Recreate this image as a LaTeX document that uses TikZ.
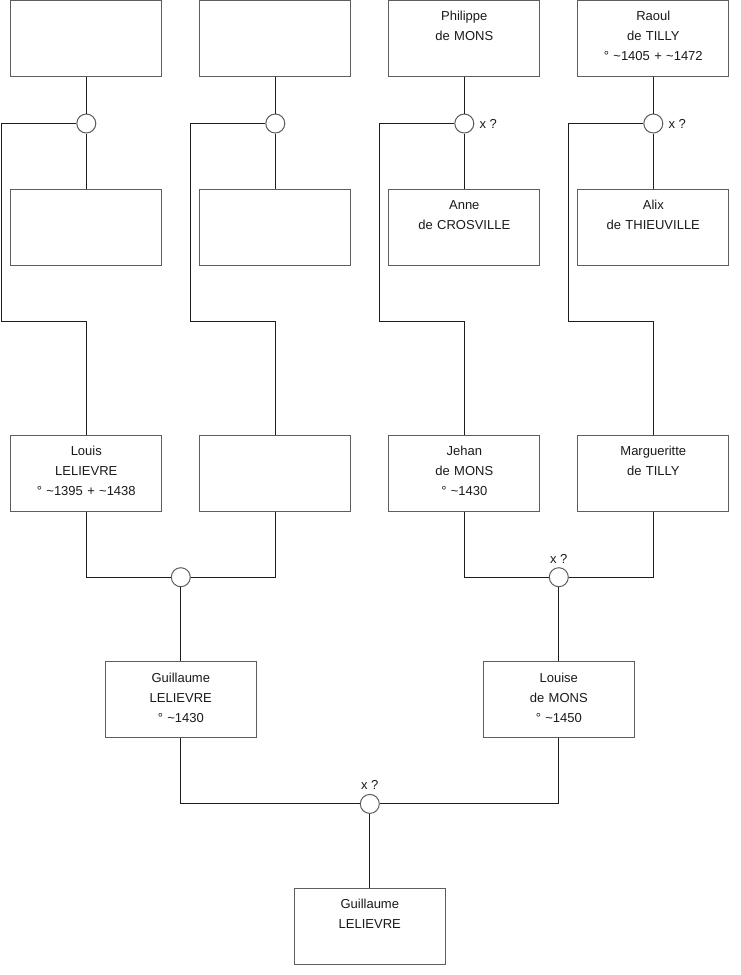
\documentclass[tikz,border=0pt]{standalone}
\usepackage{fontspec}
\setmainfont{Liberation Sans}
\usepackage{xcolor}
\usepackage{tikz}
\usetikzlibrary{calc,positioning}
\definecolor{TreeBox}{HTML}{5E5E5E}
\definecolor{TreeLine}{HTML}{1E1E1E}
\definecolor{TreeText}{HTML}{1A1A1A}
\tikzset{
  personbox/.style={draw=TreeBox,line width=1pt,fill=white,text width=151pt,align=center,
    inner xsep=0pt,inner ysep=0pt,text height=20.5pt,text depth=55.5pt,
    font=\fontsize{13}{20}\selectfont,text=TreeText},
  union/.style={circle,draw=TreeBox,line width=1pt,fill=white,minimum size=19pt,inner sep=0pt},
  link/.style={draw=TreeLine,line width=1pt},
  unionnote/.style={font=\fontsize{13}{16}\selectfont,text=TreeText,inner sep=4pt}
}

\begin{document}
\begin{tikzpicture}[node distance=37pt]
  \useasboundingbox (0,0) rectangle (740pt,-975pt);

  \node[personbox] (louisfa) at (86.3pt,-38pt) {};
  \node[personbox,right=of louisfa] (unkfa) {};
  \node[personbox,right=of unkfa] (philippe) {Philippe\\de MONS};
  \node[personbox,right=of philippe] (raoul) {Raoul\\de TILLY\\° \textasciitilde1405 + \textasciitilde1472};

  \node[personbox,below=112pt of louisfa] (louismo) {};
  \node[personbox,below=112pt of unkfa] (unkmo) {};
  \node[personbox,below=112pt of philippe] (anne) {Anne\\de CROSVILLE};
  \node[personbox,below=112pt of raoul] (alix) {Alix\\de THIEUVILLE};

  \node[union,below=37pt of louisfa] (u1) {};
  \node[union,below=37pt of unkfa] (u2) {};
  \node[union,below=37pt of philippe] (u3) {};
  \node[union,below=37pt of raoul] (u4) {};
  \node[unionnote,right=1pt of u3] (u3x) {x ?};
  \node[unionnote,right=1pt of u4] (u4x) {x ?};

  \node[personbox,below=169pt of louismo] (louis) {Louis\\LELIEVRE\\° \textasciitilde1395 + \textasciitilde1438};
  \node[personbox,below=169pt of unkmo] (unkwife) {};
  \node[personbox,below=169pt of anne] (jehan) {Jehan\\de MONS\\° \textasciitilde1430};
  \node[personbox,below=169pt of alix] (marg) {Margueritte\\de TILLY};

  \coordinate (k1) at ($(louismo.south west)+(-8.6pt,-56.2pt)$);
  \coordinate (k2) at ($(unkmo.south west)+(-8.6pt,-56.2pt)$);
  \coordinate (k3) at ($(anne.south west)+(-8.6pt,-56.2pt)$);
  \coordinate (k4) at ($(alix.south west)+(-8.6pt,-56.2pt)$);

  \node[union] (ulouis) at ($(louis.south)!.5!(unkwife.south)+(0,-65.7pt)$) {};
  \node[union] (ujehan) at ($(jehan.south)!.5!(marg.south)+(0,-65.7pt)$) {};
  \node[unionnote,above=0pt of ujehan] (ujehanx) {x ?};

  \node[personbox,below=74pt of ulouis] (guillaume) {Guillaume\\LELIEVRE\\° \textasciitilde1430};
  \node[personbox,below=74pt of ujehan] (louise) {Louise\\de MONS\\° \textasciitilde1450};

  \node[union] (uguill) at ($(guillaume.south)!.5!(louise.south)+(0,-65.7pt)$) {};
  \node[unionnote,above=0pt of uguill] (uguillx) {x ?};
  \node[personbox,below=74pt of uguill] (guillaumejr) {Guillaume\\LELIEVRE};

  \draw[link] (louisfa) -- (u1) -- (louismo);
  \draw[link] (unkfa) -- (u2) -- (unkmo);
  \draw[link] (philippe) -- (u3) -- (anne);
  \draw[link] (raoul) -- (u4) -- (alix);
  \draw[link] (u1) -| (k1) -| (louis.north);
  \draw[link] (u2) -| (k2) -| (unkwife.north);
  \draw[link] (u3) -| (k3) -| (jehan.north);
  \draw[link] (u4) -| (k4) -| (marg.north);
  \draw[link] (louis.south) |- (ulouis) -| (unkwife.south);
  \draw[link] (jehan.south) |- (ujehan) -| (marg.south);
  \draw[link] (ulouis) -- (guillaume);
  \draw[link] (ujehan) -- (louise);
  \draw[link] (guillaume.south) |- (uguill) -| (louise.south);
  \draw[link] (uguill) -- (guillaumejr);
\end{tikzpicture}
\end{document}
